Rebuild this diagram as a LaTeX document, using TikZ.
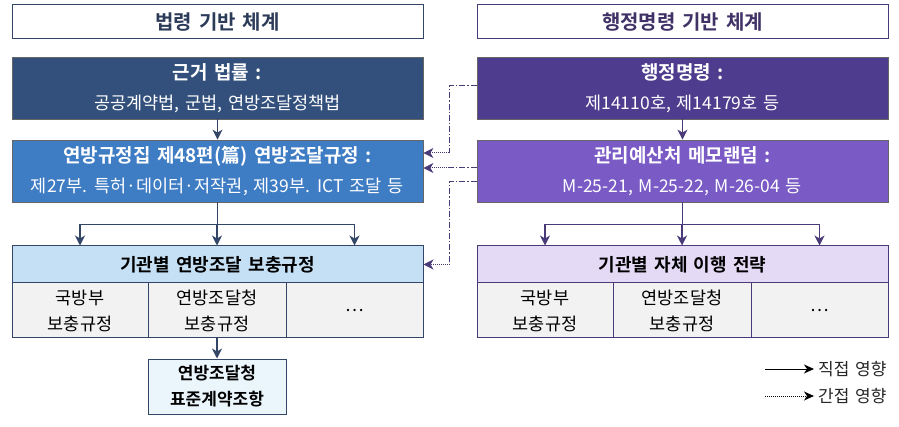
\documentclass[tikz,border=0pt]{standalone}
\usepackage{fontspec}
\setmainfont{Noto Sans CJK KR}[BoldFont={Noto Sans CJK KR Bold}, WordSpace=1.5]
\usepackage{tikz}
\usetikzlibrary{calc, arrows.meta}
\usepackage{xcolor}
\definecolor{lawLine}{RGB}{52, 70, 104}
\definecolor{lawDark}{RGB}{51, 80, 124}
\definecolor{lawMid}{RGB}{62, 124, 196}
\definecolor{lawLight}{RGB}{197, 224, 245}
\definecolor{lawPale}{RGB}{234, 245, 252}
\definecolor{ordLine}{RGB}{75, 58, 120}
\definecolor{ordDark}{RGB}{78, 61, 142}
\definecolor{ordMid}{RGB}{122, 91, 197}
\definecolor{ordLight}{RGB}{229, 218, 245}
\definecolor{cellGray}{RGB}{242, 242, 242}
\newcommand\boxtitle{\bfseries\fontsize{19}{24}\selectfont}
\newcommand\boxsub{\fontsize{17.5}{24}\selectfont}

\begin{document}
\begin{tikzpicture}[x=1pt, y=-1pt,
    hdr/.style={draw=#1, line width=1pt, fill=white, text=#1!85!black,
      minimum width=411pt, minimum height=34pt, inner sep=0pt,
      font=\bfseries\fontsize{20}{24}\selectfont},
    mainbox/.style={draw=black!60, line width=0.8pt, fill=#1, text=white,
      minimum width=411pt, minimum height=62pt, inner sep=0pt, align=center,
      font=\fontsize{17.5}{24}\selectfont},
    agencybox/.style={draw=#1, line width=1pt, minimum width=411pt,
      minimum height=37pt, inner sep=0pt, font=\bfseries\fontsize{18}{22}\selectfont},
    cell/.style={draw=#1, line width=1pt, fill=cellGray, minimum height=55pt,
      inner sep=0pt, align=center, font=\fontsize{17.5}{26}\selectfont},
    direct/.style={draw=#1, line width=1.2pt, -{Stealth[length=10pt, width=10pt, inset=3pt]}},
    indmain/.style={draw=ordLine, line width=1pt, dash pattern=on 6pt off 2pt on 1.2pt off 2pt},
    indtip/.style={draw=ordLine, line width=1pt, densely dotted,
      -{Stealth[length=10pt, width=10pt, inset=3pt]}},
    legtext/.style={anchor=west, inner sep=0pt, text=black!85, font=\fontsize{17}{20}\selectfont}
  ]
  \useasboundingbox (0,0) rectangle (899,427);

  % law based column
  \node[hdr=lawLine] (lhead) at (217.5,22) {법령 기반 체계};
  \node[mainbox=lawDark] (l1) at (217.5,88)
    {{\boxtitle 근거 법률 :}\\[6pt]{\boxsub 공공계약법, 군법, 연방조달정책법}};
  \node[mainbox=lawMid] (l2) at (217.5,171)
    {{\boxtitle 연방규정집 제48편(篇) 연방조달규정 :}\\[6pt]{\boxsub 제27부. 특허·데이터·저작권, 제39부. ICT 조달 등}};
  \node[agencybox=lawLine, fill=lawLight] (l3) at (217.5,264.5) {기관별 연방조달 보충규정};
  \node[cell=lawLine, minimum width=136pt] (lc1) at (80,310.5) {국방부\\보충규정};
  \node[cell=lawLine, minimum width=138pt] (lc2) at (217,310.5) {연방조달청\\보충규정};
  \node[cell=lawLine, minimum width=137pt] (lc3) at (354.5,310.5) {\dots};
  \node[cell=lawLine, fill=lawPale, minimum width=138pt,
    font=\bfseries\fontsize{17}{26}\selectfont] (l4) at (217,386.5) {연방조달청\\표준계약조항};

  % executive order column
  \node[hdr=ordLine] (rhead) at (682.5,22) {행정명령 기반 체계};
  \node[mainbox=ordDark] (r1) at (682.5,88)
    {{\boxtitle 행정명령 :}\\[6pt]{\boxsub 제14110호, 제14179호 등}};
  \node[mainbox=ordMid] (r2) at (682.5,171)
    {{\boxtitle 관리예산처 메모랜덤 :}\\[6pt]{\boxsub M-25-21, M-25-22, M-26-04 등}};
  \node[agencybox=ordLine, fill=ordLight] (r3) at (682.5,264.5) {기관별 자체 이행 전략};
  \node[cell=ordLine, minimum width=136pt] (rc1) at (545,310.5) {국방부\\보충규정};
  \node[cell=ordLine, minimum width=138pt] (rc2) at (682,310.5) {연방조달청\\보충규정};
  \node[cell=ordLine, minimum width=137pt] (rc3) at (819.5,310.5) {\dots};

  % direct influence
  \draw[direct=lawLine] (l1) -- (l2);
  \draw[direct=ordLine] (r1) -- (r2);
  \coordinate (lsplit) at ($(l2.south)+(0,22)$);
  \coordinate (rsplit) at ($(r2.south)+(0,22)$);
  \draw[lawLine, line width=1.2pt] (l2.south) -- (lsplit);
  \draw[ordLine, line width=1.2pt] (r2.south) -- (rsplit);
  \foreach \c in {lc1, lc2, lc3}
    \draw[direct=lawLine] (lsplit) -| (\c |- l3.north);
  \foreach \c in {rc1, rc2, rc3}
    \draw[direct=ordLine] (rsplit) -| (\c |- r3.north);
  \draw[direct=lawLine] (lc2.south) -- (l4.north);

  % indirect influence
  \coordinate (k1) at ($([yshift=18pt]l2.east)+(26,0)$);
  \coordinate (k2) at ($([yshift=3pt]l2.east)+(26,0)$);
  \coordinate (k3) at ($(l3.east)+(26,0)$);
  \draw[indmain] ([yshift=2pt]r1.west) -| (k1);
  \draw[indtip] (k1) -- ([yshift=18pt]l2.east);
  \draw[indmain] ([yshift=3pt]r2.west) -- (k2);
  \draw[indtip] (k2) -- ([yshift=3pt]l2.east);
  \draw[indmain] ([yshift=-11pt]r2.west) -| (k3);
  \draw[indtip] (k3) -- (l3.east);

  % legend
  \node[legtext] (ldir) at (818,369) {직접 영향};
  \node[legtext] (lind) at (818,396) {간접 영향};
  \coordinate (ldirs) at (765,369);
  \coordinate (linds) at (765,396);
  \draw[line width=1pt, -{Stealth[length=10pt, width=9pt, inset=3pt]}] (ldirs) -- ([xshift=-4pt]ldir.west);
  \draw[line width=1pt, densely dotted, -{Stealth[length=10pt, width=9pt, inset=3pt]}] (linds) -- ([xshift=-4pt]lind.west);
\end{tikzpicture}
\end{document}
